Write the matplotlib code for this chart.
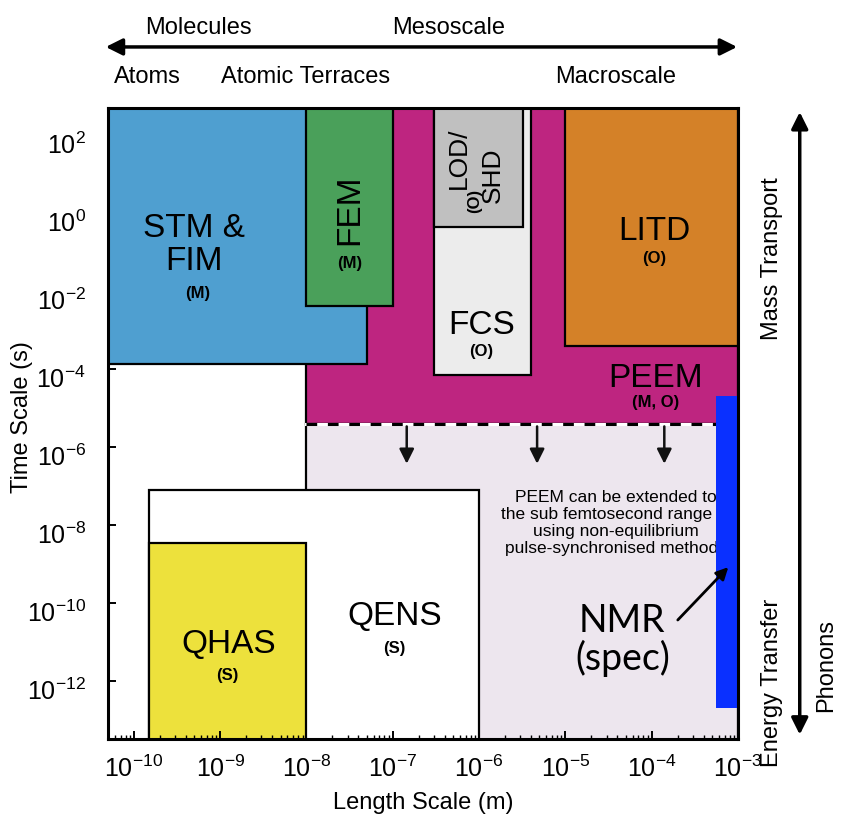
import numpy as np
import matplotlib.pyplot as plt
import matplotlib.transforms as mtrans
from matplotlib.patches import Rectangle
from matplotlib.ticker import LogLocator, FixedLocator, NullFormatter

plt.rcParams['font.family'] = ['Liberation Sans', 'DejaVu Sans']
plt.rcParams['mathtext.fontset'] = 'custom'
plt.rcParams['mathtext.rm'] = 'Liberation Sans'
plt.rcParams['mathtext.default'] = 'regular'

# technique regions: length range (m) and time range (s)
names = ['PEEM', 'PEEM ext', 'STM & FIM', 'FEM', 'FCS', 'LOD/SHD', 'LITD', 'QENS', 'QHAS', 'NMR']
x_lo = [1e-8, 1e-8, 5e-11, 1e-8, 3e-7, 3e-7, 1e-5, 1.5e-10, 1.5e-10, 5.5e-4]
x_hi = [1e-3, 1e-3, 5e-8, 1e-7, 4e-6, 3.2e-6, 1e-3, 1e-6, 1e-8, 1e-3]
t_lo = [10**-5.4, 1e-14, 10**-3.87, 10**-2.38, 10**-4.15, 10**-0.35, 10**-3.4, 1e-14, 1e-14, 10**-12.7]
t_hi = [1e3, 10**-5.4, 1e3, 1e3, 1e3, 1e3, 1e3, 10**-7.1, 10**-8.45, 10**-4.68]
colors = ['#be2580', '#ede6ee', '#4f9fd0', '#4aa05a', '#ececec', '#c0c0c0', '#d48128',
          'white', '#ede13c', '#0a30ff']

peem_limit = 10**-5.4
arrow_x = [1.45e-7, 4.7e-6, 1.4e-4]

xticks = [1e-10, 1e-9, 1e-8, 1e-7, 1e-6, 1e-5, 1e-4, 1e-3]
yticks = [1e2, 1e0, 1e-2, 1e-4, 1e-6, 1e-8, 1e-10, 1e-12]

fig = plt.figure(figsize=(8.48, 8.19), dpi=100)
ax = fig.add_axes([108/848, (819-739.3)/819, 630/848, 631.3/819])
ax.set_xscale('log')
ax.set_yscale('log')
ax.set_xlim(10**-10.3, 1e-3)
ax.set_ylim(10**-13.5, 10**2.7)

for i, n in enumerate(names):
    edge = 'none' if n == 'NMR' else 'black'
    ax.add_patch(Rectangle((x_lo[i], t_lo[i]), x_hi[i]-x_lo[i], t_hi[i]-t_lo[i],
                           facecolor=colors[i], edgecolor=edge, lw=1.6,
                           zorder=5 if n == 'NMR' else 2))

# dashed PEEM limit
ax.plot([1e-8, 1e-3], [peem_limit, peem_limit], color='white', lw=2.2, zorder=3)
ax.plot([1e-8, 1e-3], [peem_limit, peem_limit], color='black', lw=2.2, ls=(0, (3.5, 3.5)), zorder=3)
for xa in arrow_x:
    ax.annotate('', xy=(xa, 10**-6.5), xytext=(xa, peem_limit),
                arrowprops=dict(arrowstyle='-|>', color='#111111', lw=1.8, mutation_scale=22), zorder=4)

# labels
big = 24
small = 12
ax.text(5e-10, 10**-0.82, 'STM &\nFIM', ha='center', va='center', fontsize=big, zorder=6, linespacing=1.1)
ax.text(5.5e-10, 10**-2.05, '(M)', ha='center', va='center', fontsize=small, weight='bold', zorder=6)
ax.text(10**-7.5, 10**0.1, 'FEM', ha='center', va='center', fontsize=big, rotation=90, zorder=6)
ax.text(10**-7.5, 10**-1.28, '(M)', ha='center', va='center', fontsize=small, weight='bold', zorder=6)
ax.text(10**-6.23, 10**1.42, 'LOD/', ha='center', va='center', fontsize=19, rotation=90, zorder=6)
ax.text(10**-5.84, 10**0.98, 'SHD', ha='center', va='center', fontsize=19, rotation=90, zorder=6)
ax.text(10**-6.05, 10**0.32, '(O)', ha='center', va='center', fontsize=small, weight='bold', rotation=90, zorder=6)
ax.text(10**-5.97, 10**-2.87, 'FCS', ha='center', va='center', fontsize=big, zorder=6)
ax.text(10**-5.97, 10**-3.54, '(O)', ha='center', va='center', fontsize=small, weight='bold', zorder=6)
ax.text(10**-3.97, 10**-0.48, 'LITD', ha='center', va='center', fontsize=big, zorder=6)
ax.text(10**-3.97, 10**-1.15, '(O)', ha='center', va='center', fontsize=small, weight='bold', zorder=6)
ax.text(10**-3.95, 10**-4.25, 'PEEM', ha='center', va='center', fontsize=big, zorder=4)
ax.text(10**-3.95, 10**-4.87, '(M, O)', ha='center', va='center', fontsize=small, weight='bold', zorder=4)
ax.text(10**-6.98, 10**-10.36, 'QENS', ha='center', va='center', fontsize=big, zorder=6)
ax.text(10**-6.98, 10**-11.16, '(S)', ha='center', va='center', fontsize=small, weight='bold', zorder=6)
ax.text(10**-8.9, 10**-11.08, 'QHAS', ha='center', va='center', fontsize=big, zorder=6)
ax.text(10**-8.92, 10**-11.85, '(S)', ha='center', va='center', fontsize=small, weight='bold', zorder=6)
ax.text(10**-4.42, 10**-7.95,
        'PEEM can be extended to\nthe sub femtosecond range in\nusing non-equilibrium\npulse-synchronised methods',
        ha='center', va='center', fontsize=12.5, linespacing=1.17, zorder=4)
ax.text(10**-4.34, 10**-10.95, 'NMR\n(spec)', ha='center', va='center', fontsize=27,
        family=['Lato', 'DejaVu Sans'], linespacing=1.05, zorder=6)
ax.annotate('', xy=(10**-3.09, 10**-9.03), xytext=(10**-3.72, 10**-10.49),
            arrowprops=dict(arrowstyle='-|>', color='black', lw=2, mutation_scale=18), zorder=6)

# axes styling
ax.xaxis.set_major_locator(FixedLocator(xticks))
ax.xaxis.set_minor_locator(LogLocator(base=10, subs=np.arange(2, 10), numticks=20))
ax.xaxis.set_minor_formatter(NullFormatter())
ax.set_xticklabels([r'$10^{%d}$' % round(np.log10(v)) for v in xticks])
ax.yaxis.set_major_locator(FixedLocator(yticks))
ax.yaxis.set_minor_locator(FixedLocator([]))
ax.set_yticklabels([r'$10^{%d}$' % round(np.log10(v)) for v in yticks])
ax.tick_params(axis='both', which='major', direction='in', length=6, width=1.4, labelsize=18)
ax.tick_params(axis='x', which='major', pad=12)
ax.tick_params(axis='y', which='major', pad=16)
ax.tick_params(axis='x', which='minor', direction='in', length=3, width=1)
ax.xaxis.set_zorder(4.5)
ax.yaxis.set_zorder(1.5)
# labels sit a little below their ticks as in the original
shift = mtrans.ScaledTranslation(0, -6/72, fig.dpi_scale_trans)
for lab in ax.get_yticklabels():
    lab.set_transform(lab.get_transform() + shift)
for s in ax.spines.values():
    s.set_linewidth(2.2)
    s.set_zorder(7)
ax.set_xlabel('Length Scale (m)', fontsize=17, va='center')
ax.set_ylabel('Time Scale (s)', fontsize=17, va='center')
ax.xaxis.set_label_coords(0.5, -0.101)
ax.yaxis.set_label_coords(-0.137, 0.51)

# scale annotations outside the plot
ax.annotate('', xy=(1.003, 1.0967), xytext=(-0.008, 1.0967), xycoords='axes fraction',
            arrowprops=dict(arrowstyle='<|-|>', color='black', lw=2.5, mutation_scale=25), annotation_clip=False)
for lab, xf, yf in [('Molecules', 0.144, 1.127), ('Mesoscale', 0.54, 1.127), ('Atoms', 0.063, 1.049),
                    ('Atomic Terraces', 0.313, 1.049), ('Macroscale', 0.805, 1.049)]:
    ax.text(xf, yf, lab, transform=ax.transAxes, ha='center', va='center', fontsize=17)
ax.annotate('', xy=(1.098, 0.998), xytext=(1.098, 0.003), xycoords='axes fraction',
            arrowprops=dict(arrowstyle='<|-|>', color='black', lw=2.5, mutation_scale=25), annotation_clip=False)
ax.text(1.054, 0.762, 'Mass Transport', transform=ax.transAxes, ha='center', va='center', fontsize=17, rotation=90)
ax.text(1.054, 0.09, 'Energy Transfer', transform=ax.transAxes, ha='center', va='center', fontsize=17, rotation=90)
ax.text(1.14, 0.117, 'Phonons', transform=ax.transAxes, ha='center', va='center', fontsize=17, rotation=90)

plt.savefig('out.png', dpi=100)
